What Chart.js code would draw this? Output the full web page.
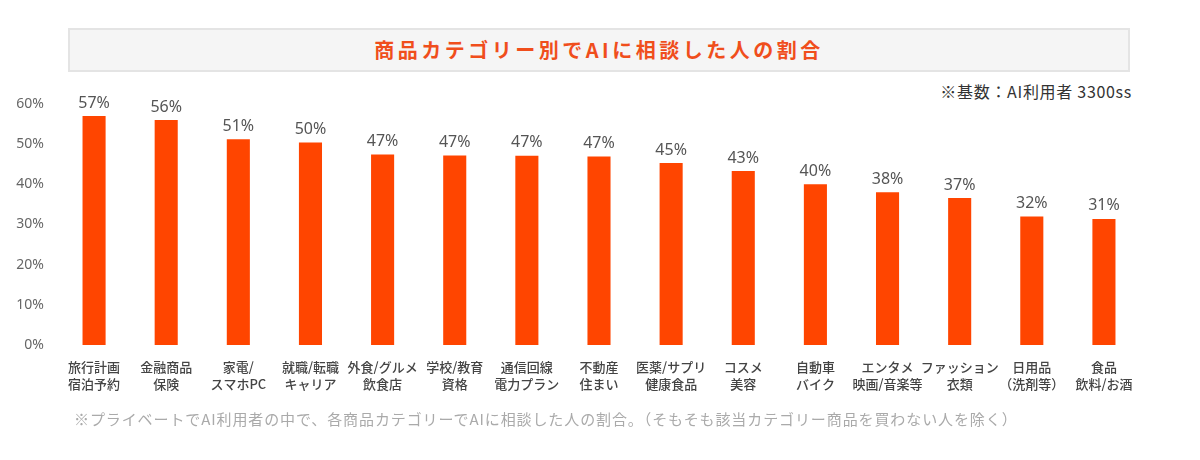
<!DOCTYPE html>
<html>
<head>
<meta charset="utf-8">
<script src="https://cdn.jsdelivr.net/npm/chart.js@4.4.1/dist/chart.umd.min.js"></script>
<style>
  body { margin: 0; background: #fff; font-family: "Noto Sans CJK JP", "Noto Sans", sans-serif; }
  #wrap { position: relative; width: 1200px; height: 460px; }
  #title {
    position: absolute; left: 68px; top: 28px; width: 1062px; height: 44px;
    background: #f5f5f5; border: 2px solid #e4e4e4; box-sizing: border-box;
    text-align: center; line-height: 40px; font-size: 20px; font-weight: bold; color: #f04e1c;
    letter-spacing: 3.5px;
  }
  #base { position: absolute; right: 68px; top: 79px; font-size: 16px; color: #333; letter-spacing: 0.7px; }
  #note { position: absolute; left: 74px; top: 408px; font-size: 15px; color: #aaa; letter-spacing: 0.9px; }
  #box { position: absolute; left: 0; top: 80px; width: 1200px; height: 330px; }
</style>
</head>
<body>
<div id="wrap">
  <div id="title">商品カテゴリー別でAIに相談した人の割合</div>
  <div id="base">※基数：AI利用者 3300ss</div>
  <div id="box"><canvas id="bars"></canvas></div>
  <div id="note">※プライベートでAI利用者の中で、各商品カテゴリーでAIに相談した人の割合。（そもそも該当カテゴリー商品を買わない人を除く）</div>
</div>
<script>
const categories = [
  ['旅行計画', '宿泊予約'], ['金融商品', '保険'], ['家電/', 'スマホPC'], ['就職/転職', 'キャリア'],
  ['外食/グルメ', '飲食店'], ['学校/教育', '資格'], ['通信回線', '電力プラン'], ['不動産', '住まい'],
  ['医薬/サプリ', '健康食品'], ['コスメ', '美容'], ['自動車', 'バイク'], ['エンタメ', '映画/音楽等'],
  ['ファッション', '衣類'], ['日用品', '（洗剤等）'], ['食品', '飲料/お酒']
];
const shares = [57.0, 56.0, 51.2, 50.4, 47.4, 47.2, 47.1, 46.9, 45.3, 43.3, 40.0, 38.0, 36.6, 32.0, 31.4];
const yTicks = [0, 10, 20, 30, 40, 50, 60];

const barLabels = {
  id: 'barLabels',
  afterDatasetsDraw(chart) {
    const ctx = chart.ctx;
    const meta = chart.getDatasetMeta(0);
    ctx.save();
    ctx.font = '16px "Noto Sans", "DejaVu Sans", sans-serif';
    ctx.fillStyle = '#555';
    ctx.textAlign = 'center';
    ctx.textBaseline = 'bottom';
    meta.data.forEach((bar, i) => {
      ctx.fillText(Math.round(shares[i]) + '%', bar.x, bar.y - 5);
    });
    ctx.restore();
  }
};

new Chart(document.getElementById('bars').getContext('2d'), {
  type: 'bar',
  data: {
    labels: categories,
    datasets: [{ data: shares, backgroundColor: '#ff4500', barPercentage: 0.32, categoryPercentage: 1 }]
  },
  options: {
    responsive: true,
    maintainAspectRatio: false,
    animation: false,
    layout: { padding: { top: 24, right: 60, left: 0, bottom: 0 } },
    plugins: { legend: { display: false }, tooltip: { enabled: false } },
    scales: {
      x: {
        grid: { display: false },
        border: { display: false },
        ticks: {
          color: '#444', padding: 5, maxRotation: 0, autoSkip: false,
          font: { size: 13, weight: 500, family: '"Noto Sans CJK JP", sans-serif', lineHeight: 1.35 }
        },
        afterFit(scale) { scale.height = 65; }
      },
      y: {
        min: 0, max: 60,
        grid: { display: false },
        border: { display: false },
        afterBuildTicks(scale) { scale.ticks = yTicks.map(v => ({ value: v })); },
        ticks: {
          color: '#666', padding: 6,
          font: { size: 14, family: '"Noto Sans", sans-serif' },
          callback: v => v + '%'
        },
        afterFit(scale) { scale.width = 58; }
      }
    }
  },
  plugins: [barLabels]
});
</script>
</body>
</html>
